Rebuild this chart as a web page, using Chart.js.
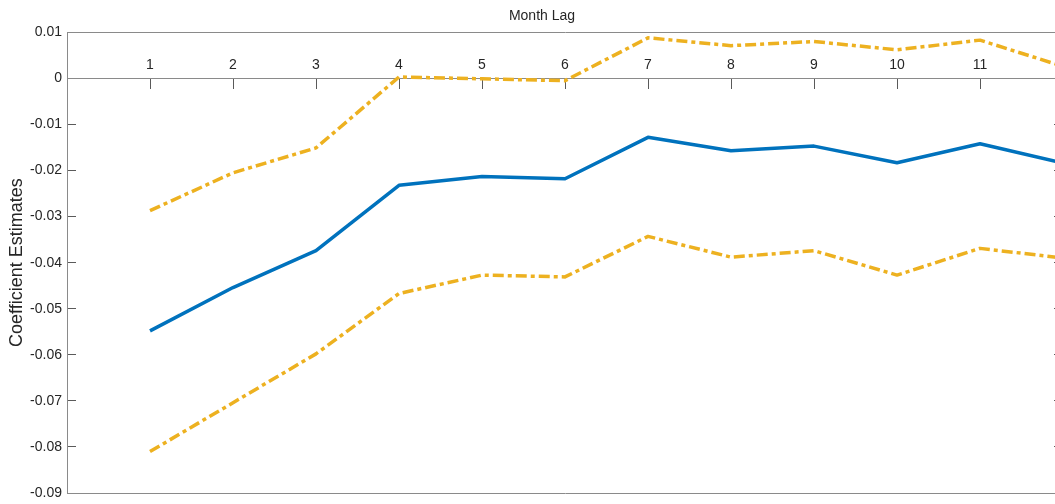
<!DOCTYPE html>
<html>
<head>
<meta charset="utf-8">
<script src="https://cdn.jsdelivr.net/npm/chart.js@4/dist/chart.umd.min.js"></script>
<style>
  html, body { margin: 0; padding: 0; background: #ffffff; overflow: hidden; }
  #wrap { position: relative; width: 1085px; height: 504px; }
</style>
</head>
<body>
<div id="wrap"><canvas id="c" width="1085" height="504"></canvas></div>
<script>
// Month lags and coefficient estimates with their confidence bounds
const lags = [1, 2, 3, 4, 5, 6, 7, 8, 9, 10, 11, 12];
const estimates = [-0.0548, -0.0454, -0.0374, -0.0232, -0.0213, -0.0218, -0.0128, -0.0157, -0.0147, -0.0183, -0.0142, -0.0184];
const upperBound = [-0.0287, -0.0205, -0.0151, 0.0003, -0.0001, -0.0005, 0.0088, 0.0071, 0.0080, 0.0062, 0.0083, 0.0026];
const lowerBound = [-0.0810, -0.0704, -0.0598, -0.0467, -0.0427, -0.0431, -0.0343, -0.0388, -0.0374, -0.0427, -0.0369, -0.0390];

// Axis ticks
const lagTicks = [1, 2, 3, 4, 5, 6, 7, 8, 9, 10, 11];
const yTicks = [0.01, 0, -0.01, -0.02, -0.03, -0.04, -0.05, -0.06, -0.07, -0.08, -0.09];

const FONT = '"Liberation Sans", Arial, Helvetica, sans-serif';
const TEXT = '#262626';
const AXIS = '#8a8a8a';
const TICK = '#5a5a5a';
const BLUE = '#0072BD';
const GOLD = '#EDB120';

const toPoints = vals => lags.map((x, i) => ({ x: x, y: vals[i] }));
const fmtY = v => (Math.abs(v) < 1e-9 ? '0' : Number(v).toFixed(2));

// fixed axis width, no extra vertical padding from tick labels
const fixWidth = w => s => { s.width = w; s.paddingTop = 0; s.paddingBottom = 0; };

const frameAxis = pos => ({
  type: 'linear', position: pos, min: 0, max: 12,
  ticks: { display: false },
  grid: { display: true, drawOnChartArea: false, drawTicks: false },
  border: { display: true, color: AXIS, width: 1 }
});

new Chart(document.getElementById('c'), {
  type: 'line',
  data: {
    datasets: [
      {
        label: 'Estimate',
        data: toPoints(estimates),
        borderColor: BLUE, borderWidth: 3.5,
        pointRadius: 0, tension: 0, borderJoinStyle: 'round'
      },
      {
        label: 'Upper bound',
        data: toPoints(upperBound),
        borderColor: GOLD, borderWidth: 3.5, borderDash: [11, 4, 4, 4],
        pointRadius: 0, tension: 0, borderJoinStyle: 'round'
      },
      {
        label: 'Lower bound',
        data: toPoints(lowerBound),
        borderColor: GOLD, borderWidth: 3.5, borderDash: [11, 4, 4, 4],
        pointRadius: 0, tension: 0, borderJoinStyle: 'round'
      }
    ]
  },
  options: {
    responsive: false,
    animation: false,
    events: [],
    layout: { padding: { left: 5, right: 6, top: 0, bottom: 11 } },
    plugins: {
      legend: { display: false },
      tooltip: { enabled: false },
      title: {
        display: true, text: 'Month Lag', color: TEXT,
        font: { family: FONT, size: 14, weight: 'normal' },
        padding: { top: 8, bottom: 7.5 }
      }
    },
    scales: {
      x: {
        type: 'linear', min: 0, max: 12, position: { y: 0 },
        afterBuildTicks: s => { s.ticks = lagTicks.map(v => ({ value: v })); },
        ticks: {
          color: TEXT, font: { family: FONT, size: 14 },
          padding: -32, maxRotation: 0, autoSkip: false,
          callback: v => String(v)
        },
        grid: { display: true, drawOnChartArea: false, drawTicks: true, tickLength: 10, color: TICK, lineWidth: 1 },
        border: { display: true, color: AXIS, width: 1 }
      },
      xTop: frameAxis('top'),
      xBottom: frameAxis('bottom'),
      y: {
        type: 'linear', position: 'left', min: -0.09, max: 0.01,
        afterBuildTicks: s => { s.ticks = yTicks.map(v => ({ value: v })); },
        afterFit: fixWidth(62),
        ticks: {
          color: TEXT, font: { family: FONT, size: 14 },
          padding: 14, autoSkip: false, callback: fmtY
        },
        grid: { display: true, drawOnChartArea: false, drawTicks: true, tickLength: -9, color: TICK, lineWidth: 1 },
        border: { display: true, color: AXIS, width: 1 },
        title: {
          display: true, text: 'Coefficient Estimates', color: TEXT,
          font: { family: FONT, size: 18 }, padding: { top: 1, bottom: 1 }
        }
      },
      yRight: {
        type: 'linear', position: 'right', min: -0.09, max: 0.01,
        afterBuildTicks: s => { s.ticks = yTicks.map(v => ({ value: v })); },
        afterFit: fixWidth(16),
        ticks: { display: false },
        grid: { display: true, drawOnChartArea: false, drawTicks: true, tickLength: -9, color: TICK, lineWidth: 1 },
        border: { display: true, color: AXIS, width: 1 }
      }
    }
  }
});
</script>
</body>
</html>
